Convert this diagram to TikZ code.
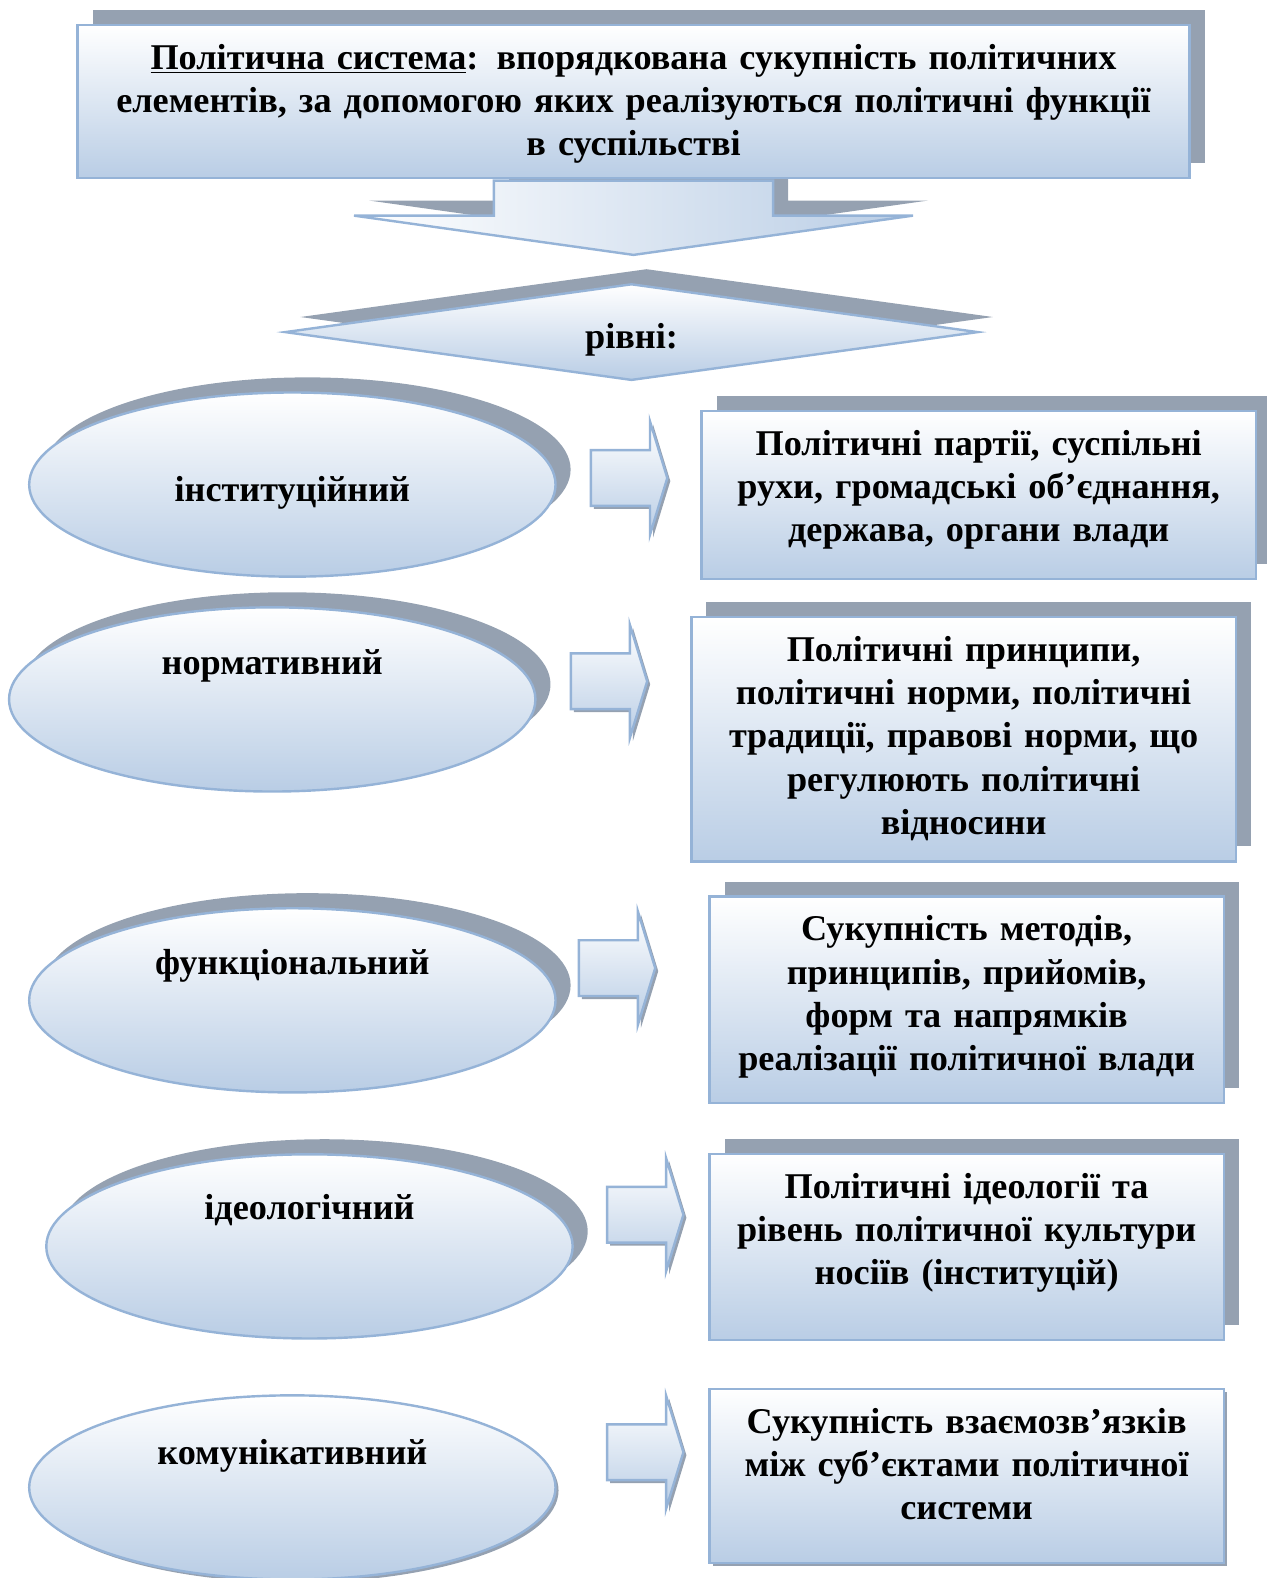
\documentclass[tikz,border=0pt]{standalone}
\usepackage{fontspec}
\setmainfont{Liberation Serif}
\usetikzlibrary{
    shapes.geometric,
    shapes.arrows,
    shadows,
    backgrounds
}
\definecolor{ShadowGray}{RGB}{149,161,177}
\definecolor{EdgeBlue}{RGB}{149,179,215}
\definecolor{FillBlue}{RGB}{185,205,229}

\begin{document}
\begin{tikzpicture}[
    x=0.5pt, y=-0.5pt,
    font=\fontsize{18}{21.5}\selectfont\bfseries,
    blueshade/.style={draw=EdgeBlue, line width=1.2pt, top color=white, bottom color=FillBlue},
    shadowup/.style={drop shadow={shadow xshift=7.5pt, shadow yshift=7.5pt, fill=ShadowGray, opacity=1}},
    shadowlow/.style={drop shadow={shadow xshift=1.5pt, shadow yshift=-1.5pt, fill=ShadowGray, opacity=1}},
    box/.style={blueshade, rectangle, inner sep=0pt, align=center, text height=22pt},
    oval/.style={blueshade, ellipse, inner sep=0pt, minimum width=261.5pt, minimum height=91.5pt, text height=12pt},
    level/.style={blueshade, diamond, inner sep=0pt, minimum width=344.5pt, minimum height=48pt, aspect=7.2},
    downarrow/.style={draw=EdgeBlue, line width=1.2pt, left color=white, right color=FillBlue,
        single arrow, rotate=-90, anchor=tail, inner xsep=0pt, inner ysep=68.75pt,
        text height=0pt, text depth=0pt, text width=26pt,
        single arrow head extend=69.5pt, single arrow tip angle=164, shadowup},
    pointer/.style={blueshade, single arrow, anchor=tail, inner xsep=0pt, inner ysep=13.25pt,
        text height=0pt, text depth=0pt, text width=32.5pt,
        single arrow head extend=14.25pt, single arrow tip angle=146, shadowlow},
]
    \useasboundingbox (0,0) rectangle (1258,1568);

    % Title box
    \node[box, shadowup, text width=552.5pt, text depth=54pt] (title) at (629.5,101)
        {\underline{Політична система}: впорядкована сукупність політичних\\
         елементів, за допомогою яких реалізуються політичні функції\\
         в суспільстві};

    % Arrow down to the levels
    \begin{scope}[on background layer]
        \node[downarrow] (down) at (title.south) {};
    \end{scope}

    % Levels
    \node[level, shadowup, text height=16pt, text depth=0pt] (levels) at (627.5,330) {рівні:};

    % Left column: ellipses
    \node[oval, shadowup, text height=16.5pt, text depth=0pt] (inst) at (290.5,481.5) {інституційний};
    \node[oval, shadowup, text depth=37pt] (norm) at (270.5,695) {нормативний};
    \node[oval, shadowup, text depth=38pt] (func) at (290.5,994) {функціональний};
    \node[oval, shadowup, text depth=38.5pt] (ideo) at (307.5,1238.5) {ідеологічний};
    \node[oval, shadowlow, text depth=35pt] (comm) at (290.5,1478) {комунікативний};

    % Block arrows
    \node[pointer] (arr1) at (586,475) {};
    \node[pointer] (arr2) at (566,677) {};
    \node[pointer] (arr3) at (574,962) {};
    \node[pointer] (arr4) at (602,1207) {};
    \node[pointer] (arr5) at (602,1443) {};

    % Right column: descriptions
    \node[box, shadowup, text width=275.5pt, text depth=61.5pt] (instbox) at (972.5,492)
        {Політичні партії, суспільні\\ рухи, громадські об’єднання,\\ держава, органи влади};
    \node[box, shadowup, text width=270.5pt, text depth=99.5pt] (normbox) at (957.5,734.5)
        {Політичні принципи,\\ політичні норми, політичні\\ традиції, правові норми, що\\ регулюють політичні\\ відносини};
    \node[box, shadowup, text width=255.5pt, text depth=80.5pt] (funcbox) at (960.5,993.5)
        {Сукупність методів,\\ принципів, прийомів,\\ форм та напрямків\\ реалізації політичної влади};
    \node[box, shadowup, text width=255.5pt, text depth=70.5pt] (ideobox) at (960.5,1239)
        {Політичні ідеології та\\ рівень політичної культури\\ носіїв (інституцій)};
    \node[box, shadowlow, text width=255.5pt, text depth=64.5pt] (commbox) at (960.5,1466.5)
        {Сукупність взаємозв’язків\\ між суб’єктами політичної\\ системи};

\end{tikzpicture}
\end{document}
